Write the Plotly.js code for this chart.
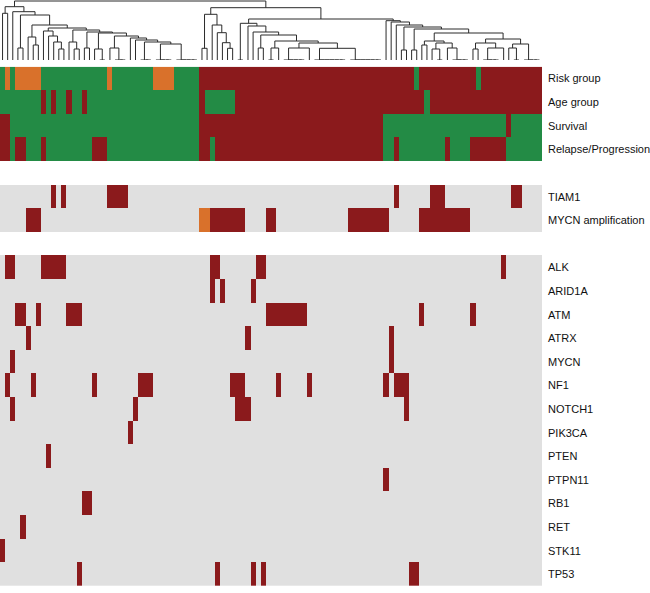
<!DOCTYPE html>
<html><head><meta charset="utf-8">
<script src="https://cdn.plot.ly/plotly-3.0.1.min.js"></script>
<style>body{margin:0;background:#fff}</style>
</head><body>
<div id="chart" style="width:650px;height:593px"></div>
<script>
// ---------- data ----------
const nSamples = 106;
// annotation tracks: G = green, R = red, O = orange (one char per sample, in dendrogram order)
const riskGroup = ["GOGOOOOOGG","GGGGGGGGGG","GOGGGGGGGG","OOOOGGGGGR","RRRRRRRRRR","RRRRRRRRRR","RRRRRRRRRR","RRRRRRRRRR","RGRRRRRRRR","RRRGRRRRRR","RRRRRR"].join("");
const ageGroup  = ["GGGGGGGGRG","RGGRGGRGGG","GGGGGGGGGG","GGGGGGGGGR","GGGGGGRRRR","RRRRRRRRRR","RRRRRRRRRR","RRRRRRRRRR","RRRGRRRRRR","RRRRRRRRRR","RRRRRR"].join("");
const survival  = ["RRGGGGGGGG","GGGGGGGGGG","GGGGGGGGGG","GGGGGGGGGR","RRRRRRRRRR","RRRRRRRRRR","RRRRRRRRRR","RRRRRGGGGG","GGGGGGGGGG","GGGGGGGGGR","GGGGGG"].join("");
const relapse   = ["RRGRRGGGRG","GGGGGGGGRR","RGGGGGGGGG","GGGGGGGGGR","RGRRRRRRRR","RRRRRRRRRR","RRRRRRRRRR","RRRRRGGRGG","GGGGGGGRGG","GGRRRRRRRG","GGGGGG"].join("");

// copy-number tracks: sample indices
const tiam1 = [10,12,21,22,23,24,77,84,85,86,100,101];
const mycnAmpRed = [5,6,7,41,42,43,44,45,46,47,52,53,68,69,70,71,72,73,74,75,82,83,84,85,86,87,88,89,90,91];
const mycnAmpOrange = [39,40];

// mutations: sample indices
const ALK    = [1,2,8,9,10,11,12,41,42,50,51,98];
const ARID1A = [41,43,49];
const ATM    = [3,4,7,13,14,15,52,53,54,55,56,57,58,59,82,92];
const ATRX   = [5,48,76];
const MYCN   = [2,76];
const NF1    = [1,6,18,27,28,29,45,46,47,54,60,75,77,78,79];
const NOTCH1 = [2,26,46,47,48,79];
const PIK3CA = [25];
const PTEN   = [9];
const PTPN11 = [75];
const RB1    = [16,17];
const RET    = [4];
const STK11  = [0];
const TP53   = [15,42,49,51,80,81];

const annotLabels = ["Risk group","Age group","Survival","Relapse/Progression"];
const cnvLabels = ["TIAM1","MYCN amplification"];
const geneLabels = ["ALK","ARID1A","ATM","ATRX","MYCN","NF1","NOTCH1","PIK3CA","PTEN","PTPN11","RB1","RET","STK11","TP53"];
const geneData = [ALK,ARID1A,ATM,ATRX,MYCN,NF1,NOTCH1,PIK3CA,PTEN,PTPN11,RB1,RET,STK11,TP53];

// dendrogram: [mergeHeight, left, right]; leaves = sample index
const tree = [59,
  [53.3,
    [46.7, 0, 1],
    [48.3, 2,
      [45, [12, 3, 4],
        [35, [23, 5, [15, 6, 7]],
          [32, [29, 8, [24, 9, [18, 10, [11, 11, 12]]]],
            [30, [18, 13, [11, 14, 15]],
              [28, [12, 16, 17],
                [27, [11, 18, [0, 19, 20]],
                  [24, [12, 21, [0, 22, [0, 23, 24]]],
                    [22, 25,
                      [20, 26,
                        [18, [0, 27, [0, 28, 29]],
                          [16, [0, 30, [0, 31, [0, 32, 33]]],
                               [0, 34, [0, 35, [0, 36, [0, 37, 38]]]]]]]]]]]]]]]]],
  [52.3,
    [45.7, [11.7, 39, 40],
      [35, 41, [27.3, 42, [17.3, 43, [11.7, 44, 45]]]]],
    [41,
      [36.7, [0, 46, 47],
        [34, 48,
          [28, 49,
            [25, [12, 50, 51],
              [19, [12, [0, 52, 53], 54],
                [17, [12, [0, 55, [0, 56, [0, 57, [0, 58, 59]]]], 60],
                  [11.7, [0, 61, [0, 62, [0, 63, [0, 64, [0, 65, [0, 66, 67]]]]]],
                         [0, 68, [0, 69, [0, 70, [0, 71, [0, 72, [0, 73, 74]]]]]]]]]]]]],
      [39.3, 75,
        [38, 76,
          [35, 77,
            [33, [10, 78, 79],
              [31, [10, 80, 81],
                [27,
                  [19, [15, 82, 83],
                    [17, [11, 84, [0, 85, 86]],
                         [12, 87, [0, 88, [0, 89, [0, 90, 91]]]]]],
                  [21,
                    [17, [11, 92, 93], [12, [0, 94, [0, 95, [0, 96, 97]]], 98]],
                    [16, [12, 99, [0, 100, 101]], [0, 102, [0, 103, [0, 104, 105]]]]]]]]]]]]]];

// ---------- build ----------
const RED = "#8b1a1c", GREEN = "#238b45", ORANGE = "#d9712b", GREY = "#e0e0e0";
const code = {G:2, R:1, O:3};
const xs = Array.from({length:nSamples}, (_, i) => i);
const z = [];
[riskGroup, ageGroup, survival, relapse].forEach(s => {
  if (s.length !== nSamples) console.error("bad length", s.length);
  z.push(s.split("").map(c => code[c]));
});
z.push(xs.map(() => null));
z.push(xs.map(i => tiam1.includes(i) ? 1 : 0));
z.push(xs.map(i => mycnAmpRed.includes(i) ? 1 : (mycnAmpOrange.includes(i) ? 3 : 0)));
z.push(xs.map(() => null));
geneData.forEach(g => z.push(xs.map(i => g.includes(i) ? 1 : 0)));
const rowLabels = [...annotLabels, "", ...cnvLabels, "", ...geneLabels];
const ys = rowLabels.map((_, i) => i);

const heat = {
  type: "heatmap", x: xs, y: ys, z: z, xaxis: "x", yaxis: "y",
  zmin: 0, zmax: 3, showscale: false, hoverongaps: false,
  colorscale: [[0, GREY],[0.1667, GREY],[0.1667, RED],[0.5, RED],[0.5, GREEN],[0.8333, GREEN],[0.8333, ORANGE],[1, ORANGE]]
};

const dx = [], dy = [];
function walk(node) {
  if (typeof node === "number") return {x: node, h: 0};
  const [h, a, b] = node;
  const A = walk(a), B = walk(b);
  dx.push(A.x, A.x, B.x, B.x, null);
  dy.push(A.h, h, h, B.h, null);
  return {x: (A.x + B.x) / 2, h: h};
}
walk(tree);
const dendro = {
  type: "scatter", mode: "lines", x: dx, y: dy, xaxis: "x", yaxis: "y2",
  line: {color: "#2b2b2b", width: 1}, hoverinfo: "skip", connectgaps: false
};

const annotations = rowLabels.map((t, i) => ({
  text: t, xref: "paper", x: 1, xanchor: "left", xshift: 4,
  yref: "y", y: i, yanchor: "middle", showarrow: false,
  font: {family: "Liberation Sans, Arial, sans-serif", size: 11, color: "#111"}
})).filter(a => a.text !== "");

const layout = {
  width: 650, height: 593,
  margin: {l: 0, r: 107.5, t: 0, b: 7, pad: 0},
  paper_bgcolor: "#fff", plot_bgcolor: "#fff",
  showlegend: false,
  xaxis: {range: [-0.5, nSamples - 0.5], visible: false, fixedrange: true},
  yaxis: {domain: [0, 0.8862], range: [rowLabels.length - 0.5, -0.5], visible: false},
  yaxis2: {domain: [0.8976, 1], range: [0, 60], visible: false},
  annotations: annotations
};
Plotly.newPlot("chart", [heat, dendro], layout, {displayModeBar: false, staticPlot: true});
</script>
</body></html>
